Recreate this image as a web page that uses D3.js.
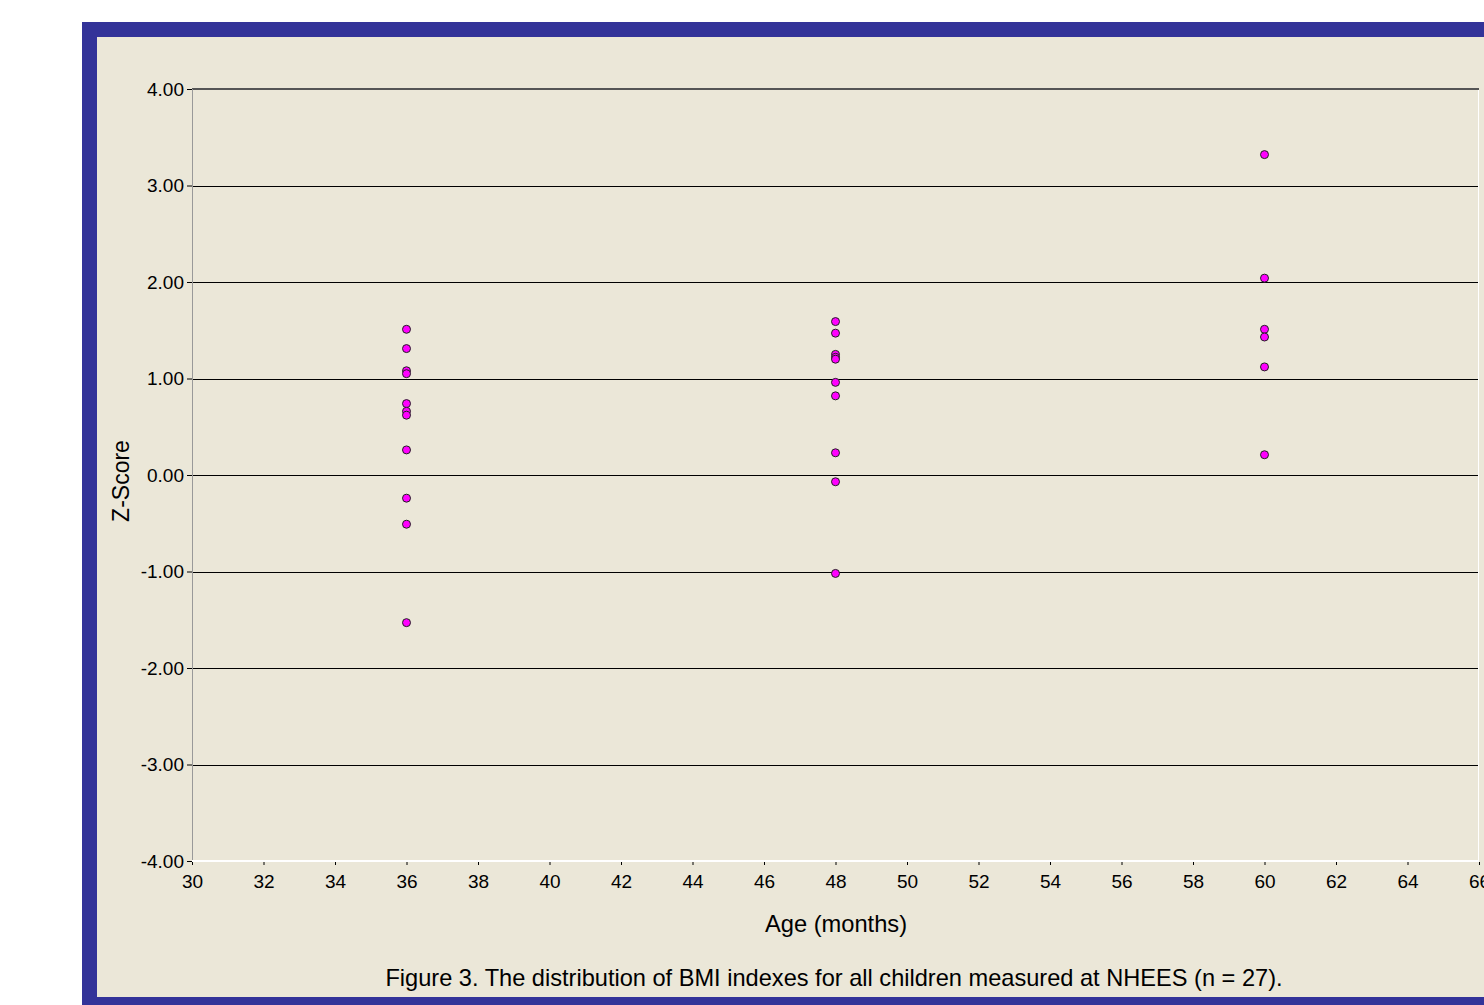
<!DOCTYPE html>
<html><head><meta charset="utf-8">
<script src="https://cdn.jsdelivr.net/npm/d3@7"></script>
<style>body{margin:0;background:#fff;}svg{display:block;font-family:"Liberation Sans",Arial,sans-serif;}</style>
</head><body>
<script>
const ages36 = [1.51,1.31,1.08,1.05,0.74,0.66,0.62,0.26,-0.24,-0.51,-1.53];
const ages48 = [1.59,1.47,1.25,1.22,1.20,0.96,0.82,0.23,-0.07,-1.02];
const ages60 = [3.32,2.04,1.51,1.43,1.12,0.21];
const groupAges = [36,48,60];
const xTicks = [30,32,34,36,38,40,42,44,46,48,50,52,54,56,58,60,62,64,66];
const yTicks = [-4,-3,-2,-1,0,1,2,3,4];

const points = [];
[ages36,ages48,ages60].forEach((arr,i)=>arr.forEach(v=>points.push({age:groupAges[i],z:v})));

const W=1484,H=1005;
const svg=d3.select("body").append("svg").attr("width",W).attr("height",H);
svg.append("rect").attr("x",82).attr("y",22).attr("width",W-82).attr("height",H-22).attr("fill","#333399");
svg.append("rect").attr("x",97).attr("y",37).attr("width",W-97).attr("height",997-37).attr("fill","#EBE7D8");

const x=d3.scaleLinear().domain([30,66]).range([192,1479]);
const y=d3.scaleLinear().domain([-4,4]).range([861,89]);

// grid lines
svg.append("g").selectAll("line").data(yTicks.filter(t=>t>-4)).join("line")
  .attr("x1",192).attr("x2",1479)
  .attr("y1",d=>d===4?Math.round(y(d)):Math.round(y(d))+0.5)
  .attr("y2",d=>d===4?Math.round(y(d)):Math.round(y(d))+0.5)
  .attr("stroke",d=>d===4?"#555":"#000").attr("stroke-width",d=>d===4?2:1);
// plot borders
svg.append("line").attr("x1",192.5).attr("x2",192.5).attr("y1",89).attr("y2",861).attr("stroke","#999").attr("stroke-width",1);
svg.append("line").attr("x1",1478.5).attr("x2",1478.5).attr("y1",90).attr("y2",861).attr("stroke","#fff").attr("stroke-width",1);

const fmtY = d => d.toFixed(2);

// y axis
const yAxis=d3.axisLeft(y).tickValues(yTicks).tickFormat(fmtY).tickSize(5).tickPadding(3);
const gy=svg.append("g").attr("transform","translate(192,0)").call(yAxis);
gy.select(".domain").remove();
gy.selectAll(".tick line").attr("stroke","#000");
gy.selectAll("text").attr("font-size",19).attr("fill","#000").attr("font-family","Liberation Sans, Arial, sans-serif");

// x axis
const xAxis=d3.axisBottom(x).tickValues(xTicks).tickFormat(d3.format("d")).tickSize(4).tickPadding(10);
const gx=svg.append("g").attr("transform","translate(0,861)").call(xAxis);
gx.select(".domain").attr("stroke","#fff").attr("stroke-width",2).attr("d","M192,0H1479");
gx.selectAll(".tick line").attr("stroke","#000").attr("y1",1).attr("y2",4);
gx.selectAll("text").attr("font-size",19).attr("fill","#000").attr("font-family","Liberation Sans, Arial, sans-serif");

// points
svg.append("g").selectAll("circle").data(points).join("circle")
  .attr("cx",d=>x(d.age)).attr("cy",d=>y(d.z)).attr("r",4)
  .attr("fill","#FF00FF").attr("stroke","#222").attr("stroke-width",1);

// labels
svg.append("text").attr("transform","translate(129,481) rotate(-90)").attr("text-anchor","middle")
  .attr("font-size",23).text("Z-Score");
svg.append("text").attr("x",836).attr("y",932).attr("text-anchor","middle").attr("font-size",23.7).text("Age (months)");
svg.append("text").attr("x",834).attr("y",986).attr("text-anchor","middle").attr("font-size",23.6)
  .text("Figure 3. The distribution of BMI indexes for all children measured at NHEES (n = 27).");
</script>
</body></html>
